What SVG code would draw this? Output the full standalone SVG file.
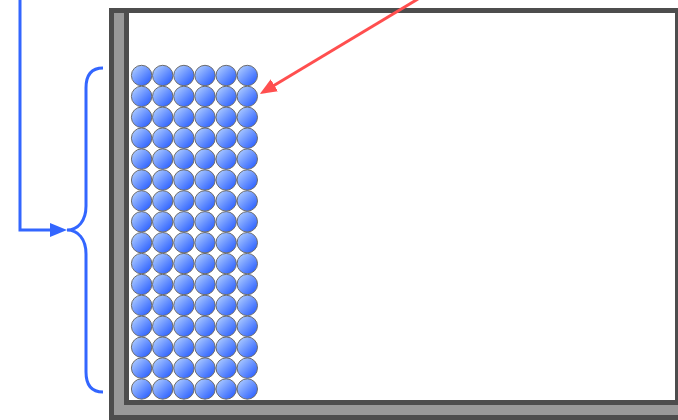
<svg xmlns="http://www.w3.org/2000/svg" xmlns:xlink="http://www.w3.org/1999/xlink" width="678" height="420" viewBox="0 0 678 420">
  <style>
    .ball { fill: url(#ballGrad); stroke: #6b6b6b; stroke-width: 1; }
    .blue { fill: none; stroke: #3366ff; stroke-width: 3; }
    .red { fill: none; stroke: #ff4f4f; stroke-width: 3; }
  </style>
  <defs>
    <linearGradient id="ballGrad" x1="0.15" y1="0.15" x2="0.85" y2="0.85">
      <stop offset="0" stop-color="#a3c3ff"/>
      <stop offset="1" stop-color="#3366ff"/>
    </linearGradient>
    <marker id="arrowBlue" markerUnits="userSpaceOnUse" markerWidth="18" markerHeight="16" refX="1" refY="8" orient="auto">
      <path d="M0,1 L17,8 L0,15 Z" fill="#3366ff"/>
    </marker>
    <marker id="arrowRed" markerUnits="userSpaceOnUse" markerWidth="18" markerHeight="16" refX="1" refY="8" orient="auto">
      <path d="M0,1 L17,8 L0,15 Z" fill="#ff4f4f"/>
    </marker>
    <g id="row">
      <circle class="ball" cx="141.6" cy="0" r="10.2"/>
      <circle class="ball" cx="162.7" cy="0" r="10.2"/>
      <circle class="ball" cx="183.9" cy="0" r="10.2"/>
      <circle class="ball" cx="205.0" cy="0" r="10.2"/>
      <circle class="ball" cx="226.2" cy="0" r="10.2"/>
      <circle class="ball" cx="247.3" cy="0" r="10.2"/>
    </g>
  </defs>

  <g id="container">
    <rect x="109" y="8" width="620" height="430" fill="#4d4d4d"/>
    <rect x="114" y="13" width="610" height="402" fill="#999999"/>
    <rect x="124" y="8" width="600" height="397" fill="#4d4d4d"/>
    <rect x="129" y="13" width="546" height="387" fill="#ffffff"/>
  </g>

  <g id="particles">
    <use xlink:href="#row" href="#row" y="75.5"/>
    <use xlink:href="#row" href="#row" y="96.4"/>
    <use xlink:href="#row" href="#row" y="117.3"/>
    <use xlink:href="#row" href="#row" y="138.2"/>
    <use xlink:href="#row" href="#row" y="159.1"/>
    <use xlink:href="#row" href="#row" y="180.0"/>
    <use xlink:href="#row" href="#row" y="200.9"/>
    <use xlink:href="#row" href="#row" y="221.8"/>
    <use xlink:href="#row" href="#row" y="242.7"/>
    <use xlink:href="#row" href="#row" y="263.6"/>
    <use xlink:href="#row" href="#row" y="284.5"/>
    <use xlink:href="#row" href="#row" y="305.4"/>
    <use xlink:href="#row" href="#row" y="326.3"/>
    <use xlink:href="#row" href="#row" y="347.2"/>
    <use xlink:href="#row" href="#row" y="368.1"/>
    <use xlink:href="#row" href="#row" y="389.0"/>
  </g>

  <g id="brace">
    <path class="blue" d="M103,68 C92,68 86,74 86,88 V206 C86,221 78,230 67,230 C78,230 86,239 86,254 V372 C86,386 92,392 103,392"/>
  </g>

  <g id="connectors">
    <path class="blue" d="M20,0 V230 H51" marker-end="url(#arrowBlue)"/>
    <path class="red" d="M418,-1 L273.5,85.8" marker-end="url(#arrowRed)"/>
  </g>
</svg>
